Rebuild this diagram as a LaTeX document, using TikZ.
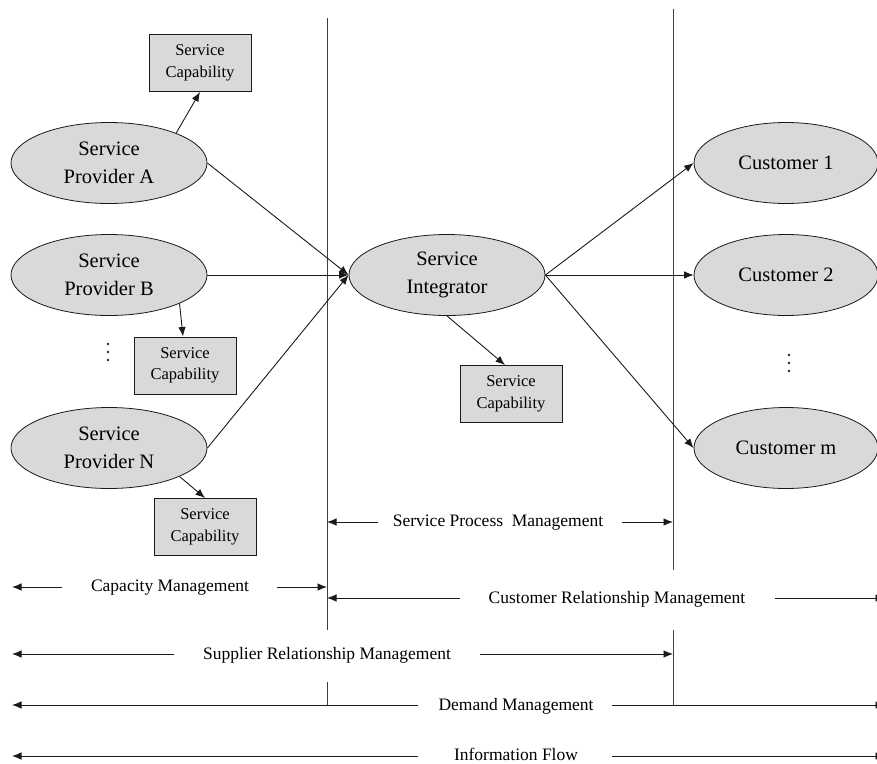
\documentclass[tikz,border=0pt]{standalone}
\usepackage{fontspec}
\setmainfont{Liberation Serif}
\usetikzlibrary{shapes.geometric,arrows.meta}

\definecolor{boxgray}{HTML}{D9D9D9}
\definecolor{inkgray}{HTML}{1A1A1A}

\tikzset{
  actor/.style={ellipse, draw=inkgray, fill=boxgray, line width=0.8pt,
    minimum width=196pt, minimum height=81pt, inner sep=0pt, align=center,
    font=\fontsize{20.5}{28}\selectfont},
  capbox/.style={rectangle, draw=inkgray, fill=boxgray, line width=1pt,
    minimum width=102pt, minimum height=57pt, inner sep=0pt, align=center,
    font=\fontsize{16.5}{21.5}\selectfont},
  flow/.style={draw=inkgray, line width=0.9pt, -{Latex[length=9.5pt,width=7.5pt]}},
  divider/.style={draw=black!75, line width=1pt},
  span/.style={draw=inkgray, line width=0.9pt},
  spanlabel/.style={inner sep=0pt, font=\fontsize{17.5}{20}\selectfont},
  tip/.style={-{Latex[length=9.5pt,width=7.5pt]}},
  vdot/.style={circle, fill=black!85, inner sep=0pt, minimum size=2.6pt}
}

\begin{document}
\begin{tikzpicture}[x=1pt, y=-1pt]
\useasboundingbox (0,0) rectangle (877,763);

% phase dividers
\coordinate (l1) at (327,18);  \coordinate (l2) at (327,630);
\coordinate (l3) at (327,682); \coordinate (l4) at (327,705);
\coordinate (r1) at (673,9);   \coordinate (r2) at (673,570);
\coordinate (r3) at (673,630); \coordinate (r4) at (673,705);
\draw[divider] (l1) -- (l2);
\draw[divider] (l3) -- (l4);
\draw[divider] (r1) -- (r2);
\draw[divider] (r3) -- (r4);

% providers
\node[actor] (pa) at (109,163) {Service\\Provider A};
\node[actor] (pb) at (109,275) {Service\\Provider B};
\node[actor] (pn) at (109,448) {Service\\Provider N};

% integrator
\node[actor] (si) at (447,275) {Service\\Integrator};

% customers
\node[actor, minimum width=184pt] (c1) at (786,163) {Customer 1};
\node[actor, minimum width=184pt] (c2) at (786,275) {Customer 2};
\node[actor, minimum width=184pt] (cm) at (786,448) {Customer m};

% capability boxes
\node[capbox] (capA) at (200,63) {Service\\Capability};
\node[capbox] (capB) at (185,365.5){Service\\Capability};
\node[capbox] (capN) at (205,527) {Service\\Capability};
\node[capbox] (capI) at (511,394) {Service\\Capability};

% ellipsis marks
\node[vdot] (dl1) at (108,344) {};
\node[vdot] (dl2) at (108,352) {};
\node[vdot] (dl3) at (108,360) {};
\node[vdot] (dr1) at (789,355) {};
\node[vdot] (dr2) at (789,363) {};
\node[vdot] (dr3) at (789,371) {};

% provider links
\draw[flow] (pa.24) -- (capA.south);
\draw[flow] (pb.-22) -- ([xshift=-2pt]capB.north);
\draw[flow] (pn.-22) -- (capN.north);
\draw[flow] (pa.east) -- (si.west);
\draw[flow] (pb.east) -- (si.west);
\draw[flow] (pn.east) -- (si.west);

% integrator links
\draw[flow] (si.south) -- ([xshift=-6pt]capI.north);
\draw[flow] (si.east) -- (c1.west);
\draw[flow] (si.east) -- (c2.west);
\draw[flow] (si.east) -- (cm.west);

% management spans
\node[spanlabel] (spm) at (498,523) {Service Process\ \ Management};
\coordinate (spmL) at (327,522); \coordinate (spmR) at (673,522);
\draw[span,tip] (378,522) -- (spmL);
\draw[span,tip] (622,522) -- (spmR);

\node[spanlabel] (cap) at (170,588) {Capacity Management};
\coordinate (capL) at (12,587); \coordinate (capR) at (327,587);
\draw[span,tip] (62,587) -- (capL);
\draw[span,tip] (277,587) -- (capR);

\node[spanlabel] (crm) at (617,599) {Customer Relationship Management};
\coordinate (crmL) at (327,598); \coordinate (crmR) at (885,598);
\draw[span,tip] (460,598) -- (crmL);
\draw[span,tip] (775,598) -- (crmR);

\node[spanlabel] (srm) at (327,655) {Supplier Relationship Management};
\coordinate (srmL) at (12,654); \coordinate (srmR) at (673,654);
\draw[span,tip] (174,654) -- (srmL);
\draw[span,tip] (480,654) -- (srmR);

\node[spanlabel] (dem) at (516,706) {Demand Management};
\coordinate (demL) at (12,705); \coordinate (demR) at (885,705);
\draw[span,tip] (418,705) -- (demL);
\draw[span,tip] (612,705) -- (demR);

\node[spanlabel] (inf) at (516,754.5) {Information Flow};
\coordinate (infL) at (12,756); \coordinate (infR) at (885,756);
\draw[span,tip] (418,756) -- (infL);
\draw[span,tip] (612,756) -- (infR);
\end{tikzpicture}
\end{document}
